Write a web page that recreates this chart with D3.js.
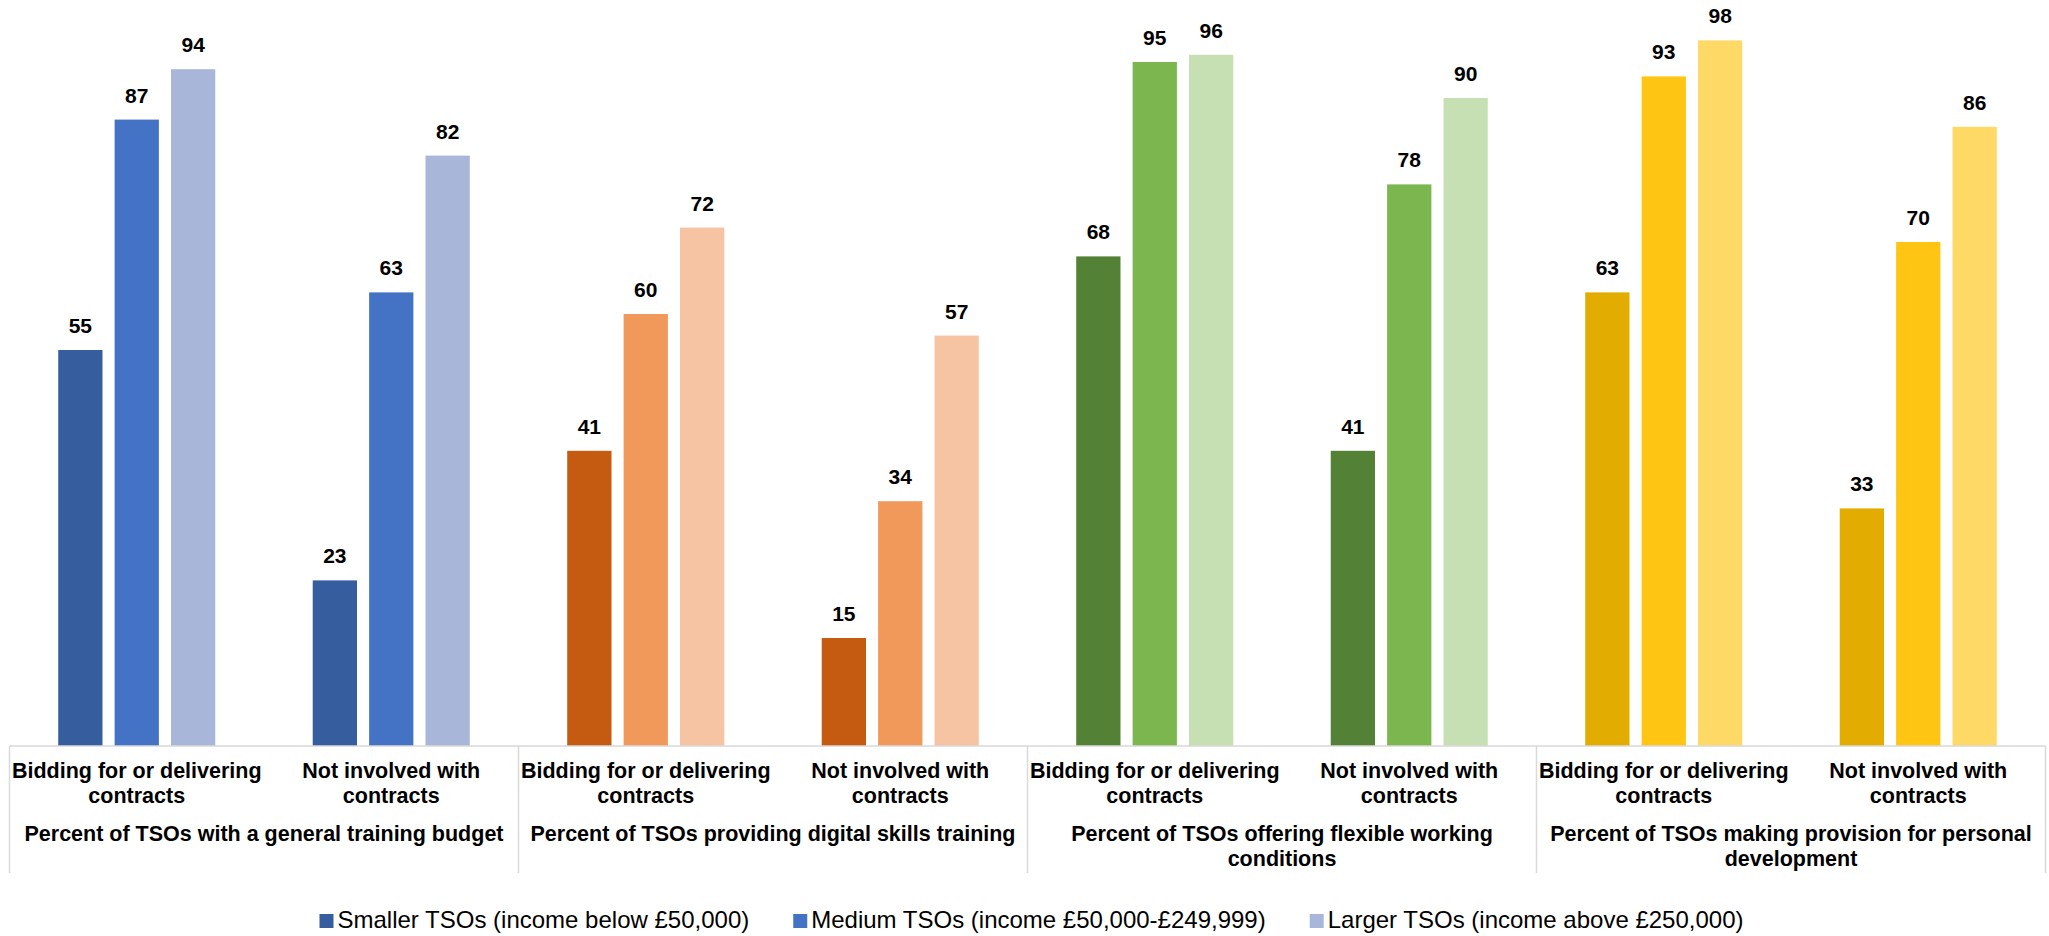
<!DOCTYPE html>
<html>
<head>
<meta charset="utf-8">
<script src="https://cdn.jsdelivr.net/npm/d3@7"></script>
<style>
  html, body { margin: 0; padding: 0; background: #ffffff; }
  svg { display: block; font-family: "Liberation Sans", Arial, sans-serif; }
</style>
</head>
<body>
<svg id="chart" width="2049" height="936"></svg>
<script>
// ---- Data ----
const groups = [
  "Percent of TSOs with a general training budget",
  "Percent of TSOs providing digital skills training",
  "Percent of TSOs offering flexible working\nconditions",
  "Percent of TSOs making provision for personal\ndevelopment"
];
const subcategories = ["Bidding for or delivering\ncontracts", "Not involved with\ncontracts"];
const seriesNames = [
  "Smaller TSOs (income below £50,000)",
  "Medium TSOs (income £50,000-£249,999)",
  "Larger TSOs (income above £250,000)"
];
const smallerValues = [55, 23, 41, 15, 68, 41, 63, 33];
const mediumValues  = [87, 63, 60, 34, 95, 78, 93, 70];
const largerValues  = [94, 82, 72, 57, 96, 90, 98, 86];
const seriesValues = [smallerValues, mediumValues, largerValues];

const bluePalette   = ["#365E9F", "#4472C4", "#A8B6DA"];
const orangePalette = ["#C55A11", "#F0995B", "#F6C4A2"];
const greenPalette  = ["#538135", "#7BB64E", "#C6E0B4"];
const yellowPalette = ["#E2AD00", "#FFC512", "#FFD966"];
const groupPalettes = [bluePalette, orangePalette, greenPalette, yellowPalette];

// ---- Layout ----
const svg = d3.select("#chart");
const left = 9.5, right = 2045.5;
const baseY = 746, topY = 26;

const xGroup = d3.scaleBand().domain(d3.range(groups.length)).range([left, right]).paddingInner(0).paddingOuter(0);
const xSub = d3.scaleBand().domain(d3.range(subcategories.length)).range([0, xGroup.bandwidth()]).padding(0);
const xSeries = d3.scaleBand().domain(d3.range(seriesNames.length)).range([0, xSub.bandwidth()])
  .paddingInner(0.215).paddingOuter(0.864);
const y = d3.scaleLinear().domain([0, 100]).range([baseY, topY]);

// Build flat records
const records = [];
groups.forEach((g, gi) => {
  subcategories.forEach((s, si) => {
    const idx = gi * subcategories.length + si;
    seriesNames.forEach((name, ki) => {
      records.push({ gi, si, ki, value: seriesValues[ki][idx], color: groupPalettes[gi][ki] });
    });
  });
});
const barX = d => xGroup(d.gi) + xSub(d.si) + xSeries(d.ki);

// Bars
svg.append("g").selectAll("rect").data(records).join("rect")
  .attr("x", barX)
  .attr("y", d => y(d.value))
  .attr("width", xSeries.bandwidth())
  .attr("height", d => y(0) - y(d.value))
  .attr("fill", d => d.color);

// Value labels
svg.append("g").selectAll("text").data(records).join("text")
  .attr("x", d => barX(d) + xSeries.bandwidth() / 2)
  .attr("y", d => y(d.value) - 17)
  .attr("text-anchor", "middle")
  .attr("font-size", 21)
  .attr("font-weight", "bold")
  .attr("fill", "#000")
  .text(d => d.value);

// Axis line and group separators
const axisG = svg.append("g").attr("stroke", "#D9D9D9").attr("stroke-width", 1.5);
axisG.append("line").attr("x1", xGroup.range()[0]).attr("x2", xGroup.range()[1])
  .attr("y1", baseY).attr("y2", baseY);
const sepXs = groups.map((g, gi) => xGroup(gi)).concat([xGroup(groups.length - 1) + xGroup.bandwidth()]);
axisG.selectAll("line.sep").data(sepXs).join("line").attr("class", "sep")
  .attr("x1", d => d).attr("x2", d => d).attr("y1", baseY).attr("y2", 873);

// Subcategory labels
const subLabelData = [];
groups.forEach((g, gi) => subcategories.forEach((s, si) => subLabelData.push({ gi, si, text: s })));
const subG = svg.append("g").attr("font-size", 21.5).attr("font-weight", "bold").attr("fill", "#000").attr("text-anchor", "middle");
subLabelData.forEach(d => {
  const cx = xGroup(d.gi) + xSub(d.si) + xSub.bandwidth() / 2;
  d.text.split("\n").forEach((line, li) => {
    subG.append("text").attr("x", cx).attr("y", 778 + li * 25).text(line);
  });
});

// Group labels
const grpG = svg.append("g").attr("font-size", 21.5).attr("font-weight", "bold").attr("fill", "#000").attr("text-anchor", "middle");
groups.forEach((g, gi) => {
  const cx = xGroup(gi) + xGroup.bandwidth() / 2;
  g.split("\n").forEach((line, li) => {
    grpG.append("text").attr("x", cx).attr("y", 841 + li * 25).text(line);
  });
});

// Legend
const legend = svg.append("g");
const items = legend.selectAll("g").data(seriesNames).join("g");
items.append("rect").attr("width", 14).attr("height", 14).attr("y", -14)
  .attr("fill", (d, i) => bluePalette[i]);
items.append("text").attr("x", 18).attr("y", 0).attr("font-size", 24).attr("fill", "#000").text(d => d);
let cursor = 0;
const gap = 44;
items.each(function() {
  const w = this.getBBox().width;
  d3.select(this).attr("transform", `translate(${cursor},928)`);
  cursor += w + gap;
});
const totalW = cursor - gap;
const centerX = (left + right) / 2 + 4;
legend.attr("transform", `translate(${centerX - totalW / 2},0)`);
</script>
</body>
</html>
